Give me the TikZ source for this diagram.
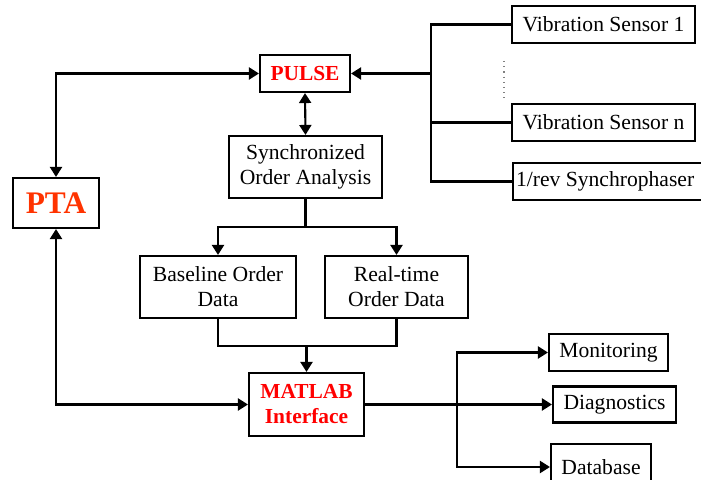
\documentclass[tikz,border=0pt]{standalone}
\usepackage{fontspec}
\setmainfont{Liberation Serif}
\usetikzlibrary{arrows.meta}
\definecolor{ptared}{RGB}{255,51,0}

\begin{document}
\begin{tikzpicture}[x=0.5pt,y=-0.5pt,line width=1.05pt,>={Triangle[length=5pt,width=6pt]}]
% Styles for the boxes
\tikzstyle{box}=[draw,rectangle,align=center,inner sep=2pt,font=\fontsize{10.8}{12.5}\selectfont]
\tikzstyle{red box}=[box,text=red,font=\fontsize{10.7}{12.5}\selectfont\bfseries]
\tikzstyle{sensor box}=[box,minimum width=91.5pt,minimum height=18.5pt]
\useasboundingbox (0,0) rectangle (701,480);

% Middle column
\node[red box,minimum width=45pt,minimum height=18.5pt] (pulse) at (305,73.5) {PULSE};
\node[box,minimum width=76.5pt,minimum height=31pt] (sync) at (305.5,167) {Synchronized\\Order Analysis};
\node[box,minimum width=78pt,minimum height=31pt] (base) at (218,287) {Baseline Order\\Data};
\node[box,minimum width=71.5pt,minimum height=31pt] (real) at (396.5,287) {Real-time\\Order Data};
\node[red box,minimum width=57.5pt,minimum height=31.5pt] (matlab) at (306.5,404.5) {MATLAB\\Interface};
\node[box,text=ptared,font=\fontsize{15.7}{18}\selectfont\bfseries,minimum width=43pt,minimum height=25pt] (pta) at (56,203) {PTA};

% Sensors
\node[sensor box] (vs1) at (603.5,24.5) {Vibration Sensor 1};
\node[sensor box] (vsn) at (603.5,122.5) {Vibration Sensor n};
\node[box,anchor=west,inner xsep=1.5pt,minimum height=18.5pt,minimum width=97pt,align=left] (rev) at (512,181.5) {1/rev Synchrophaser\hspace*{6pt}};
\draw[dotted,gray,line width=0.6pt] (504,61) -- (504,98);

% Outputs
\node[box,minimum width=59.5pt,minimum height=18.5pt] (mon) at (608.5,352.5) {Monitoring};
\node[box,minimum width=61.5pt,minimum height=18pt] (diag) at (614.5,404.5) {Diagnostics};
\node[box,minimum width=50pt,minimum height=23pt] (db) at (601,467) {Database};

\coordinate (jt) at (431,73.5);
\coordinate (s1) at (305.5,227);
\coordinate (m1) at (306.5,346);
\coordinate (o1) at (457,404.5);

\draw (vs1.west) -| (jt) |- (rev.west);
\draw (vsn.west) -- (vsn.west -| jt);
\draw[->] (jt) -- (pulse.east);
\draw[<->] (pta.north) |- (pulse.west);
\draw[<->] (pta.south) |- (matlab.west);
\draw[<->] (pulse.south) -- (sync.north);
\draw (sync.south) -- (s1);
\draw[->] (s1) -| (base.north);
\draw[->] (s1) -| (real.north);
\draw (base.south) |- (m1) -| (real.south);
\draw[->] (m1) -- (matlab.north);
\draw[->] (matlab.east) -- (diag.west);
\draw[->] (o1) |- (mon.west);
\draw[->] (o1) |- (db.west);
\end{tikzpicture}
\end{document}
